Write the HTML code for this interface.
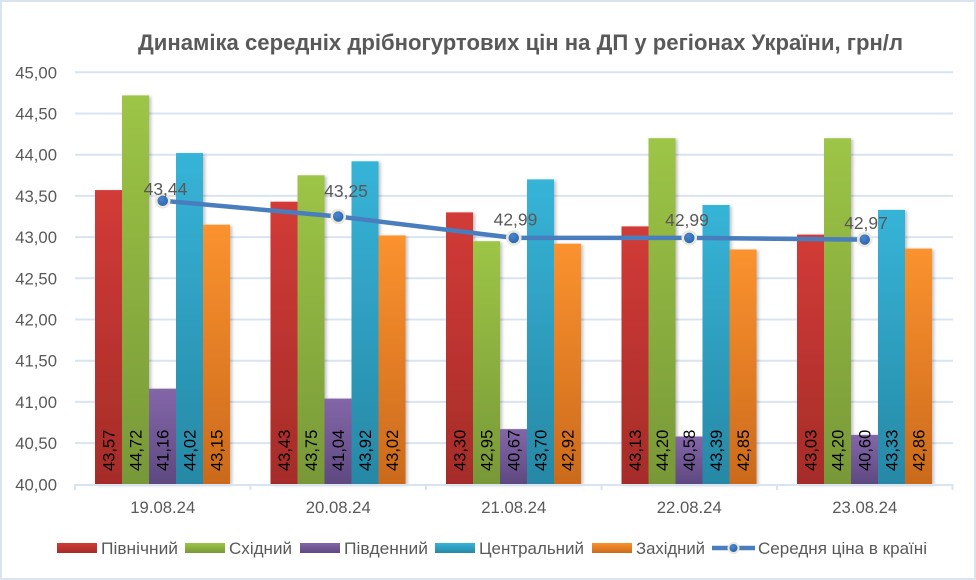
<!DOCTYPE html>
<html><head><meta charset="utf-8"><style>
html,body{margin:0;padding:0;background:#fff;}
svg{display:block;font-family:"Liberation Sans","DejaVu Sans",sans-serif;}
</style></head><body>
<svg width="976" height="580" viewBox="0 0 976 580" xmlns="http://www.w3.org/2000/svg">
<defs>
<linearGradient id="gr" x1="0" y1="0" x2="0" y2="1"><stop offset="0" stop-color="#d23b37"/><stop offset="1" stop-color="#a52c29"/></linearGradient>
<linearGradient id="gg" x1="0" y1="0" x2="0" y2="1"><stop offset="0" stop-color="#9dc546"/><stop offset="1" stop-color="#789838"/></linearGradient>
<linearGradient id="gp" x1="0" y1="0" x2="0" y2="1"><stop offset="0" stop-color="#8366a8"/><stop offset="1" stop-color="#5e4980"/></linearGradient>
<linearGradient id="gc" x1="0" y1="0" x2="0" y2="1"><stop offset="0" stop-color="#36b4d8"/><stop offset="1" stop-color="#2788a5"/></linearGradient>
<linearGradient id="go" x1="0" y1="0" x2="0" y2="1"><stop offset="0" stop-color="#fb922f"/><stop offset="1" stop-color="#cb6a1c"/></linearGradient>
<radialGradient id="gm" cx="0.4" cy="0.35" r="0.7"><stop offset="0" stop-color="#4a86cf"/><stop offset="1" stop-color="#245fa8"/></radialGradient>
<filter id="sh" x="-20%" y="-5%" width="150%" height="110%"><feDropShadow dx="2" dy="1" stdDeviation="1.5" flood-color="#000" flood-opacity="0.25"/></filter>
</defs>
<rect x="0" y="0" width="976" height="580" fill="#dae3f1"/>
<rect x="2" y="2" width="972" height="576" fill="#ffffff"/>

<text x="138" y="50" font-size="22.5" font-weight="bold" fill="#595959" textLength="765" lengthAdjust="spacingAndGlyphs">Динаміка середніх дрібногуртових цін на ДП у регіонах України, грн/л</text>

<g stroke="#d9e4f3" stroke-width="2">
<line x1="75" x2="953" y1="72.3" y2="72.3"/>
<line x1="75" x2="953" y1="113.5" y2="113.5"/>
<line x1="75" x2="953" y1="154.7" y2="154.7"/>
<line x1="75" x2="953" y1="195.9" y2="195.9"/>
<line x1="75" x2="953" y1="237.1" y2="237.1"/>
<line x1="75" x2="953" y1="278.3" y2="278.3"/>
<line x1="75" x2="953" y1="319.5" y2="319.5"/>
<line x1="75" x2="953" y1="360.7" y2="360.7"/>
<line x1="75" x2="953" y1="401.9" y2="401.9"/>
<line x1="75" x2="953" y1="443.1" y2="443.1"/>
</g>

<g font-size="16.7" fill="#595959" text-anchor="end">
<text x="57" y="78.3">45,00</text>
<text x="57" y="119.5">44,50</text>
<text x="57" y="160.7">44,00</text>
<text x="57" y="201.9">43,50</text>
<text x="57" y="243.1">43,00</text>
<text x="57" y="284.3">42,50</text>
<text x="57" y="325.5">42,00</text>
<text x="57" y="366.7">41,50</text>
<text x="57" y="407.9">41,00</text>
<text x="57" y="449.1">40,50</text>
<text x="57" y="490.3">40,00</text>
</g>

<g filter="url(#sh)">
<rect x="95" y="190.1" width="27" height="294.2" fill="url(#gr)"/>
<rect x="122" y="95.4" width="27" height="388.9" fill="url(#gg)"/>
<rect x="149" y="388.7" width="27" height="95.6" fill="url(#gp)"/>
<rect x="176" y="153.05" width="27" height="331.25" fill="url(#gc)"/>
<rect x="203" y="224.7" width="27" height="259.6" fill="url(#go)"/>

<rect x="270.5" y="201.7" width="27" height="282.6" fill="url(#gr)"/>
<rect x="297.5" y="175.3" width="27" height="309" fill="url(#gg)"/>
<rect x="324.5" y="398.6" width="27" height="85.7" fill="url(#gp)"/>
<rect x="351.5" y="161.3" width="27" height="323" fill="url(#gc)"/>
<rect x="378.5" y="235.45" width="27" height="248.85" fill="url(#go)"/>

<rect x="446" y="212.4" width="27" height="271.9" fill="url(#gr)"/>
<rect x="473" y="241.2" width="27" height="243.1" fill="url(#gg)"/>
<rect x="500" y="429.1" width="27" height="55.2" fill="url(#gp)"/>
<rect x="527" y="179.4" width="27" height="304.9" fill="url(#gc)"/>
<rect x="554" y="243.7" width="27" height="240.6" fill="url(#go)"/>

<rect x="621.5" y="226.4" width="27" height="257.9" fill="url(#gr)"/>
<rect x="648.5" y="138.2" width="27" height="346.1" fill="url(#gg)"/>
<rect x="675.5" y="436.5" width="27" height="47.8" fill="url(#gp)"/>
<rect x="702.5" y="205.0" width="27" height="279.3" fill="url(#gc)"/>
<rect x="729.5" y="249.5" width="27" height="234.8" fill="url(#go)"/>

<rect x="797" y="234.6" width="27" height="249.7" fill="url(#gr)"/>
<rect x="824" y="138.2" width="27" height="346.1" fill="url(#gg)"/>
<rect x="851" y="434.9" width="27" height="49.4" fill="url(#gp)"/>
<rect x="878" y="209.9" width="27" height="274.4" fill="url(#gc)"/>
<rect x="905" y="248.6" width="27" height="235.7" fill="url(#go)"/>
</g>

<g font-size="16.5" fill="#000">
<text transform="translate(114.5,471) rotate(-90)">43,57</text>
<text transform="translate(141.5,471) rotate(-90)">44,72</text>
<text transform="translate(168.5,471) rotate(-90)">41,16</text>
<text transform="translate(195.5,471) rotate(-90)">44,02</text>
<text transform="translate(222.5,471) rotate(-90)">43,15</text>

<text transform="translate(290,471) rotate(-90)">43,43</text>
<text transform="translate(317,471) rotate(-90)">43,75</text>
<text transform="translate(344,471) rotate(-90)">41,04</text>
<text transform="translate(371,471) rotate(-90)">43,92</text>
<text transform="translate(398,471) rotate(-90)">43,02</text>

<text transform="translate(465.5,471) rotate(-90)">43,30</text>
<text transform="translate(492.5,471) rotate(-90)">42,95</text>
<text transform="translate(519.5,471) rotate(-90)">40,67</text>
<text transform="translate(546.5,471) rotate(-90)">43,70</text>
<text transform="translate(573.5,471) rotate(-90)">42,92</text>

<text transform="translate(641,471) rotate(-90)">43,13</text>
<text transform="translate(668,471) rotate(-90)">44,20</text>
<text transform="translate(695,471) rotate(-90)">40,58</text>
<text transform="translate(722,471) rotate(-90)">43,39</text>
<text transform="translate(749,471) rotate(-90)">42,85</text>

<text transform="translate(816.5,471) rotate(-90)">43,03</text>
<text transform="translate(843.5,471) rotate(-90)">44,20</text>
<text transform="translate(870.5,471) rotate(-90)">40,60</text>
<text transform="translate(897.5,471) rotate(-90)">43,33</text>
<text transform="translate(924.5,471) rotate(-90)">42,86</text>
</g>

<g stroke="#d9e4f3" stroke-width="2">
<line x1="75" x2="953" y1="485" y2="485"/>
<line x1="75" x2="75" y1="484" y2="490"/>
<line x1="250.5" x2="250.5" y1="484" y2="490"/>
<line x1="426" x2="426" y1="484" y2="490"/>
<line x1="601.5" x2="601.5" y1="484" y2="490"/>
<line x1="777" x2="777" y1="484" y2="490"/>
<line x1="952.5" x2="952.5" y1="484" y2="490"/>
</g>

<g font-size="16.7" fill="#595959" text-anchor="middle">
<text x="162.75" y="513">19.08.24</text>
<text x="338.25" y="513">20.08.24</text>
<text x="513.75" y="513">21.08.24</text>
<text x="689.25" y="513">22.08.24</text>
<text x="864.75" y="513">23.08.24</text>
</g>

<polyline points="162.75,200.8 338.25,216.5 513.75,237.9 689.25,237.9 864.75,239.6" fill="none" stroke="#4a7dbd" stroke-width="4.5" stroke-linejoin="round"/>
<g stroke="#ebe8dc" stroke-width="2.5" fill="url(#gm)">
<circle cx="162.75" cy="200.8" r="6.5"/>
<circle cx="338.25" cy="216.5" r="6.5"/>
<circle cx="513.75" cy="237.9" r="6.5"/>
<circle cx="689.25" cy="237.9" r="6.5"/>
<circle cx="864.75" cy="239.6" r="6.5"/>
</g>
<g font-size="17.5" fill="#595959" text-anchor="middle">
<text x="165.5" y="195">43,44</text>
<text x="346" y="197">43,25</text>
<text x="515.5" y="225.7">42,99</text>
<text x="687" y="226">42,99</text>
<text x="866" y="229">42,97</text>
</g>

<rect x="57" y="543" width="40" height="10" fill="url(#gr)"/>
<rect x="185" y="543" width="40" height="10" fill="url(#gg)"/>
<rect x="300" y="543" width="40" height="10" fill="url(#gp)"/>
<rect x="435" y="543" width="40" height="10" fill="url(#gc)"/>
<rect x="592" y="543" width="40" height="10" fill="url(#go)"/>
<line x1="712" x2="755" y1="548" y2="548" stroke="#4a7dbd" stroke-width="4.5"/>
<circle cx="733.5" cy="548" r="5" fill="url(#gm)" stroke="#ebe8dc" stroke-width="2"/>
<g font-size="16.7" fill="#595959">
<text x="101" y="554" textLength="77" lengthAdjust="spacingAndGlyphs">Північний</text>
<text x="229" y="554" textLength="63" lengthAdjust="spacingAndGlyphs">Східний</text>
<text x="344" y="554" textLength="84" lengthAdjust="spacingAndGlyphs">Південний</text>
<text x="479" y="554" textLength="105" lengthAdjust="spacingAndGlyphs">Центральний</text>
<text x="636" y="554" textLength="69" lengthAdjust="spacingAndGlyphs">Західний</text>
<text x="758" y="554" textLength="169" lengthAdjust="spacingAndGlyphs">Середня ціна в країні</text>
</g>
</svg>
</body></html>
